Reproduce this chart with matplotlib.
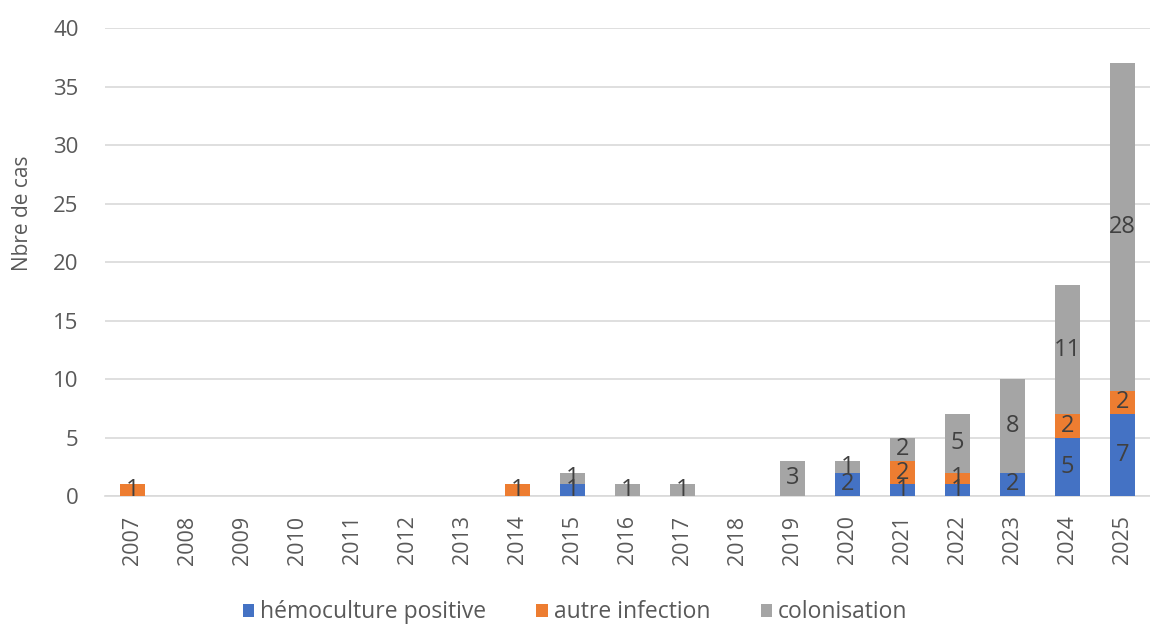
import numpy as np
import matplotlib.pyplot as plt

plt.rcParams['font.family'] = ['Open Sans', 'DejaVu Sans']

annees = [str(a) for a in range(2007, 2026)]
hemoculture = [0, 0, 0, 0, 0, 0, 0, 0, 1, 0, 0, 0, 0, 2, 1, 1, 2, 5, 7]
autre = [1, 0, 0, 0, 0, 0, 0, 1, 0, 0, 0, 0, 0, 0, 2, 1, 0, 2, 2]
colonisation = [0, 0, 0, 0, 0, 0, 0, 0, 1, 1, 1, 0, 3, 1, 2, 5, 8, 11, 28]

series = [("hémoculture positive", hemoculture, "#4472C4"),
          ("autre infection", autre, "#ED7D31"),
          ("colonisation", colonisation, "#A5A5A5")]

fig = plt.figure(figsize=(11.5, 6.28), dpi=100)
ax = fig.add_axes([0.0913, 0.2102, 0.9087, 0.745])

x = np.arange(len(annees))
bas = np.zeros(len(annees))
for nom, vals, coul in series:
    vals = np.array(vals, dtype=float)
    ax.bar(x, vals, 0.44, bottom=bas, color=coul, label=nom, zorder=3)
    # étiquettes au centre de chaque segment non nul
    for xi, b, v in zip(x, bas, vals):
        if v > 0:
            ax.text(xi, b + v / 2, f"{int(v)}", ha='center', va='center',
                    fontsize=17, color='#404040', zorder=4)
    bas += vals

ax.set_xlim(-0.5, len(annees) - 0.5)
ax.set_ylim(0, 40)
ax.set_yticks(range(0, 41, 5))
ax.set_xticks(x)
ax.set_xticklabels(annees, rotation=90, fontsize=15.5, color='#595959')
ax.tick_params(axis='y', labelsize=16, colors='#595959', length=0, pad=19)
ax.tick_params(axis='x', length=0, pad=14)
ax.grid(axis='y', color='#D9D9D9', linewidth=1.2, zorder=0)
for s in ['top', 'right', 'left']:
    ax.spines[s].set_visible(False)
ax.spines['bottom'].set_color('#D9D9D9')
ax.spines['bottom'].set_linewidth(1.2)
ax.set_ylabel("Nbre de cas", fontsize=15, color='#595959')
ax.yaxis.set_label_coords(-0.069, 0.605)

fig.legend(loc='center', bbox_to_anchor=(0.5, 0.025), ncol=3, frameon=False,
           fontsize=16.5, labelcolor='#595959', handlelength=0.5, handleheight=0.5,
           handletextpad=0.25, columnspacing=2.2)

fig.savefig("out.png", dpi=100)
